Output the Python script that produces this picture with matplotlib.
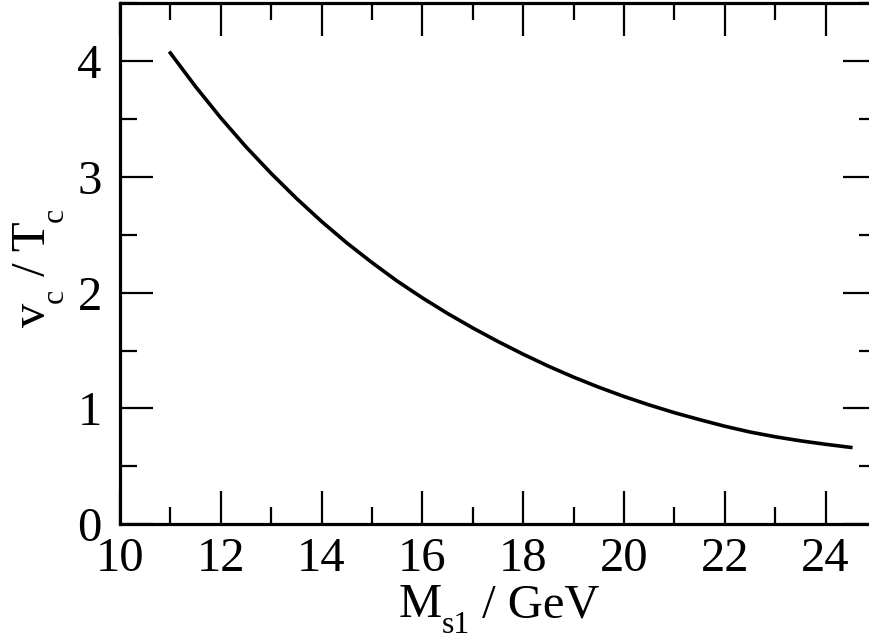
import numpy as np
import matplotlib
matplotlib.use("Agg")
import matplotlib.pyplot as plt
from matplotlib.ticker import MultipleLocator
from matplotlib.transforms import IdentityTransform

plt.rcParams['font.family'] = ['Liberation Serif', 'DejaVu Serif']

# curve
m_s1 = [11.0, 11.5, 12.0, 12.5, 13.0, 13.5, 14.0, 14.5, 15.0, 15.5, 16.0, 16.5,
        17.0, 17.5, 18.0, 18.5, 19.0, 19.5, 20.0, 20.5, 21.0, 21.5, 22.0, 22.5,
        23.0, 23.5, 24.0, 24.5]
vc_tc = [4.07, 3.78, 3.51, 3.26, 3.03, 2.815, 2.615, 2.43, 2.26, 2.10, 1.955, 1.82,
         1.695, 1.578, 1.468, 1.365, 1.27, 1.183, 1.103, 1.03, 0.963, 0.903, 0.846, 0.796,
         0.755, 0.72, 0.69, 0.663]

FS = 35
SUB = 23

fig = plt.figure(figsize=(8.69, 6.4), dpi=100)
ax = fig.add_axes([0.138, 0.181, 0.870, 0.814])
ax.plot(m_s1, vc_tc, color='black', lw=2.6)

ax.set_xlim(10, 25)
ax.set_ylim(0, 4.5)
ax.xaxis.set_major_locator(MultipleLocator(2))
ax.xaxis.set_minor_locator(MultipleLocator(1))
ax.yaxis.set_major_locator(MultipleLocator(1))
ax.yaxis.set_minor_locator(MultipleLocator(0.5))
ax.tick_params(which='both', direction='in', top=True, right=True, width=1.6)
ax.tick_params(which='major', length=24, labelsize=FS)
ax.tick_params(which='minor', length=12)
ax.tick_params(axis='x', pad=9)
ax.tick_params(axis='y', pad=13)
for s in ax.spines.values():
    s.set_linewidth(2.3)


# axis labels with low-set subscripts, like the original
def label(x0, y0, pieces, vertical=False):
    r = fig.canvas.get_renderer()
    pos = 0
    for txt, size, drop in pieces:
        if vertical:
            t = fig.text(x0 + drop, y0 + pos, txt, fontsize=size, rotation=90,
                         rotation_mode='anchor', ha='left', va='baseline',
                         transform=IdentityTransform())
            pos += t.get_window_extent(r).height
        else:
            t = fig.text(x0 + pos, y0 - drop, txt, fontsize=size,
                         ha='left', va='baseline', transform=IdentityTransform())
            pos += t.get_window_extent(r).width


label(399, 640 - 617, [('M', FS, 0), ('s1', SUB, 16), (' / GeV', FS, 0)])
label(45, 640 - 327, [('v', FS, 0), ('c', SUB, 18), (' / T', FS, 0), ('c', SUB, 18)],
      vertical=True)

fig.savefig('out.png', dpi=100)
